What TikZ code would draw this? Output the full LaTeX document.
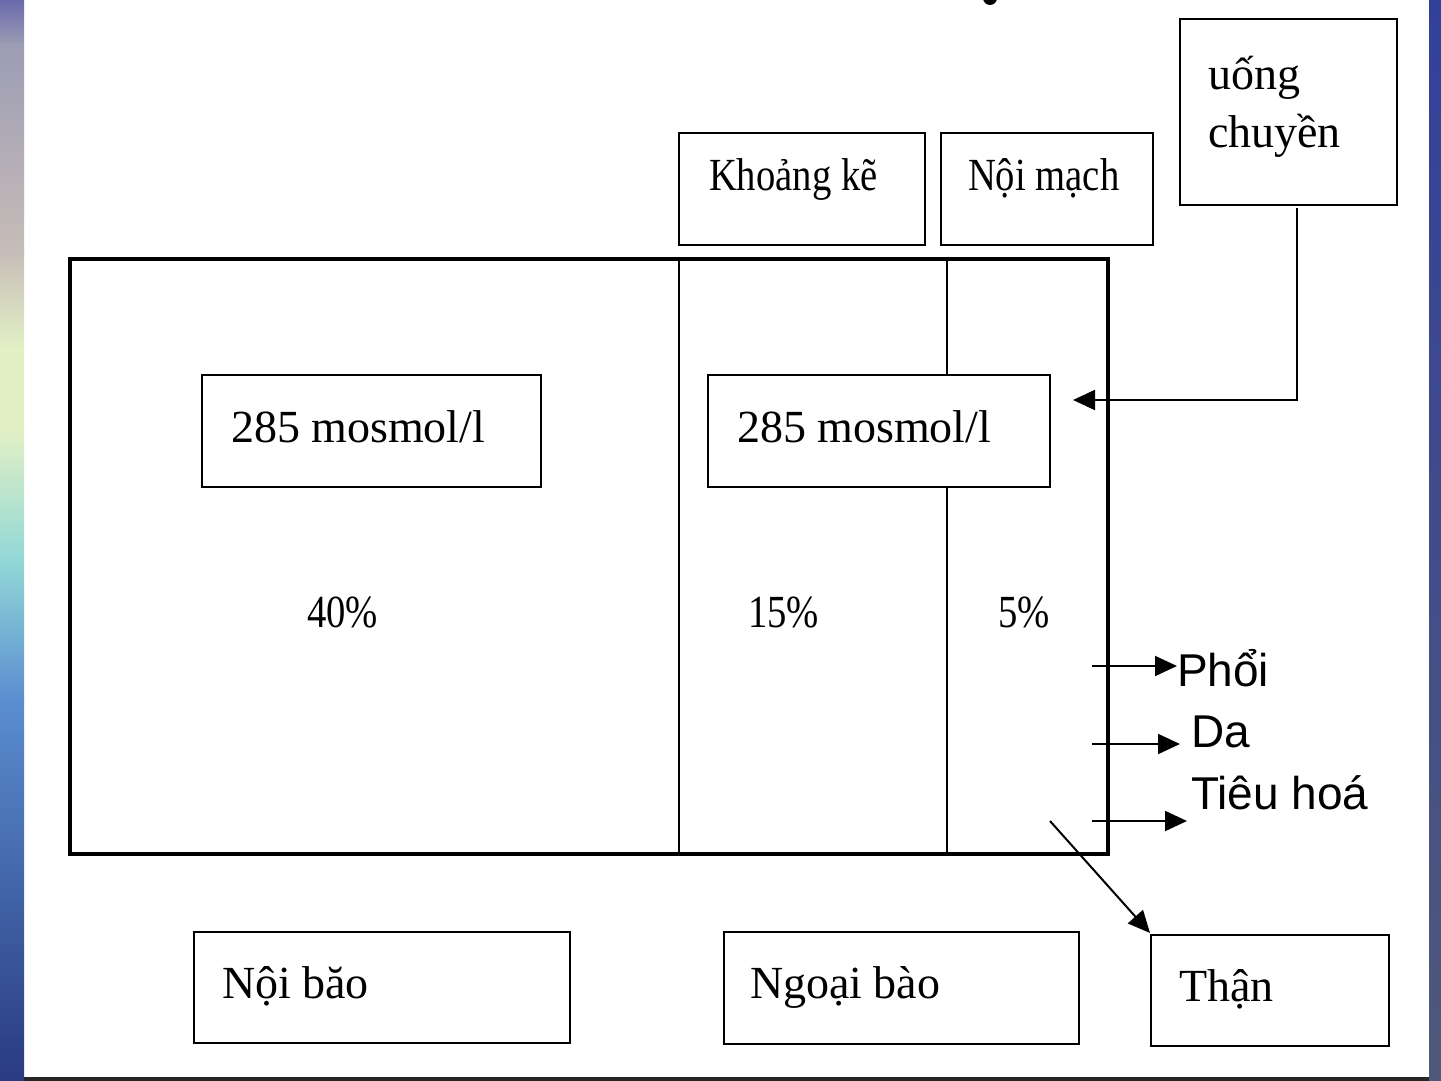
\documentclass[tikz,border=0pt]{standalone}
\usepackage{fontspec}
\setmainfont{Liberation Serif}
\newfontfamily\narrowserif[FakeStretch=0.84]{Liberation Serif}
\newfontfamily\arialfont{Liberation Sans}
\usetikzlibrary{arrows.meta}
\definecolor{stripA}{HTML}{6A6AAE}
\definecolor{stripB}{HTML}{9C9CB4}
\definecolor{stripC}{HTML}{C6BCB8}
\definecolor{stripD}{HTML}{E2D2B8}
\definecolor{stripE}{HTML}{E2F0C4}
\definecolor{stripF}{HTML}{92D8D6}
\definecolor{stripG}{HTML}{5A8ED0}
\definecolor{stripH}{HTML}{2A3A80}
\definecolor{rightA}{HTML}{33409A}
\definecolor{rightB}{HTML}{2C3680}
\definecolor{rightC}{HTML}{50587A}
\tikzset{
  boxline/.style={draw=black,fill=white,line width=1.2pt},
  thinline/.style={draw=black,line width=1.0pt},
  serif label/.style={anchor=base west,inner sep=0pt,font=\fontsize{23}{27}\selectfont},
  narrow label/.style={anchor=base west,inner sep=0pt,font=\narrowserif\fontsize{23}{27}\selectfont},
  sans label/.style={anchor=base west,inner sep=0pt,font=\arialfont\fontsize{23}{27}\selectfont},
  flow/.style={draw=black,line width=1.0pt,-{Triangle[length=11pt,width=10pt]}}
}
\begin{document}
\begin{tikzpicture}[y=0.50pt, x=0.5pt,yscale=-1, inner sep=0pt, outer sep=0pt]
  \useasboundingbox (0,0) rectangle (1441,1081);
  % background strips
  \path[fill=white] (0,0) rectangle (1441,1081);
  \shade[top color=stripA,bottom color=stripB] (0,0) rectangle (24,45);
  \shade[top color=stripB,bottom color=stripC] (0,45) rectangle (24,250);
  \shade[top color=stripC,middle color=stripD,bottom color=stripE] (0,250) rectangle (24,350);
  \shade[top color=stripE,bottom color=stripE] (0,350) rectangle (24,430);
  \shade[top color=stripE,bottom color=stripF] (0,430) rectangle (24,560);
  \shade[top color=stripF,bottom color=stripG] (0,560) rectangle (24,700);
  \shade[top color=stripG,bottom color=stripH] (0,700) rectangle (24,1081);
  \shade[top color=rightA,middle color=rightB,bottom color=rightC] (1429,0) rectangle (1441,1081);
  \path[fill=black!85] (24,1077) rectangle (1429,1081);
  \path[fill=black] (990,-2) ellipse (7 and 7);

  % compartments
  \path[draw=black,line width=2.2pt,line join=miter] (70,259) rectangle (1108,854);
  \path[thinline] (679,259) -- (679,854);
  \path[thinline] (947,259) -- (947,854);
  \path[boxline] (202,375) rectangle (541,487);
  \path[boxline] (708,375) rectangle (1050,487);

  % top boxes
  \path[boxline] (679,133) rectangle (925,245);
  \path[boxline] (941,133) rectangle (1153,245);
  \path[boxline] (1180,19) rectangle (1397,205);

  % bottom boxes
  \path[boxline] (194,932) rectangle (570,1043);
  \path[boxline] (724,932) rectangle (1079,1044);
  \path[boxline] (1151,935) rectangle (1389,1046);

  % labels
  \path (231,442) node[serif label] (osmolNoi) {285 mosmol/l};
  \path (737,442) node[serif label] (osmolNgoai) {285 mosmol/l};
  \path (307,627) node[narrow label] (pctNoi) {40\%};
  \path (748,627) node[narrow label] (pctKhoang) {15\%};
  \path (998,627) node[narrow label] (pctMach) {5\%};
  \path (709,191) node[narrow label] (khoangke) {Khoảng kẽ};
  \path (968,191) node[narrow label] (noimach) {Nội mạch};
  \path (1208,90) node[serif label] (uong) {uống};
  \path (1208,148) node[serif label] (chuyen) {chuyền};
  \path (222,998) node[serif label] (noibao) {Nội băo};
  \path (750,998) node[serif label] (ngoaibao) {Ngoại bào};
  \path (1179,1001) node[serif label] (than) {Thận};
  \path (1177,686) node[sans label] (phoi) {Phổi};
  \path (1191,747) node[sans label] (da) {Da};
  \path (1191,809) node[sans label] (tieuhoa) {Tiêu hoá};

  % connectors
  \coordinate (uongOut) at (1297,208);
  \coordinate (uongIn) at (1073,400);
  \coordinate (phoiOut) at (1092,666);
  \coordinate (daOut) at (1092,744);
  \coordinate (daIn) at (1180,744);
  \coordinate (tieuOut) at (1092,821);
  \coordinate (tieuIn) at (1187,821);
  \coordinate (thanOut) at (1050,821);
  \coordinate (thanIn) at (1150,933);
  \draw[flow] (uongOut) |- (uongIn);
  \draw[flow] (phoiOut) -- (phoi.west |- phoiOut);
  \draw[flow] (daOut) -- (daIn);
  \draw[flow] (tieuOut) -- (tieuIn);
  \draw[flow] (thanOut) -- (thanIn);
\end{tikzpicture}
\end{document}
